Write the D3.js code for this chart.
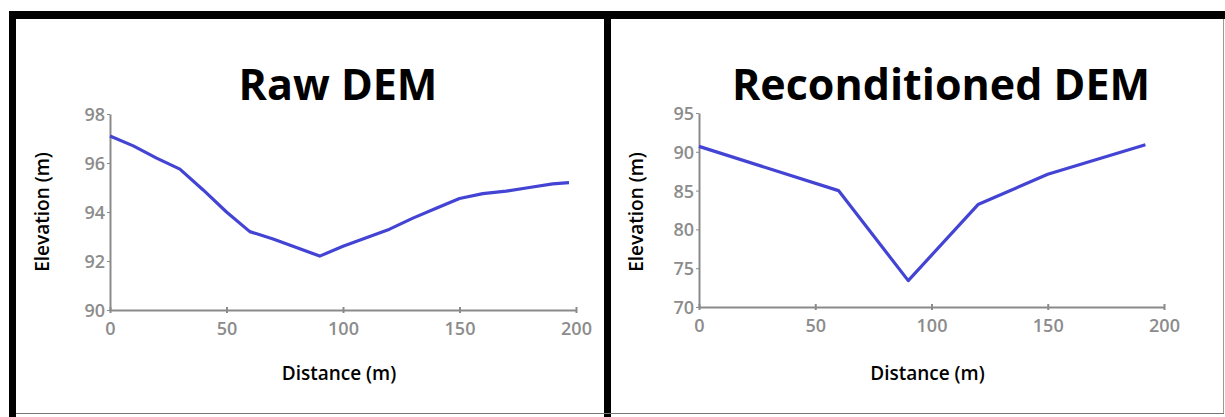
<!DOCTYPE html>
<html>
<head>
<meta charset="utf-8">
<script src="https://cdn.jsdelivr.net/npm/d3@7"></script>
<style>
  body { margin: 0; background: #fff; }
  .tick text { fill: #8c8c8c; font-family: "Open Sans", sans-serif; font-weight: 600; font-size: 18px; }
  .tick line, .domain { stroke: #8a8a8a; }
</style>
</head>
<body>
<script>
// left panel: raw DEM profile
const rawDist = [0, 10, 20, 30, 40, 50, 60, 70, 80, 90, 100, 110, 120, 130, 140, 150, 160, 170, 180, 190, 197];
const rawElev = [97.1, 96.7, 96.2, 95.75, 94.9, 94.0, 93.2, 92.9, 92.55, 92.2, 92.6, 92.95, 93.3, 93.75, 94.15, 94.55, 94.75, 94.85, 95.0, 95.15, 95.2];
const rawTicksY = [90, 92, 94, 96, 98];

// right panel: reconditioned DEM profile
const recDist = [0, 60, 90, 120, 150, 192];
const recElev = [90.7, 85.0, 73.4, 83.2, 87.1, 90.9];
const recTicksY = [70, 75, 80, 85, 90, 95];

const distTicks = [0, 50, 100, 150, 200];

const W = 1225, H = 417;
const svg = d3.select("body").append("svg")
    .attr("width", W)
    .attr("height", H);

// frame
svg.append("rect").attr("x", 9).attr("y", 11).attr("width", W - 9).attr("height", 8).attr("fill", "#000");
svg.append("rect").attr("x", 9).attr("y", 11).attr("width", 7).attr("height", H - 11).attr("fill", "#000");
svg.append("rect").attr("x", 604).attr("y", 11).attr("width", 7).attr("height", H - 11).attr("fill", "#000");
svg.append("line").attr("x1", 16).attr("x2", W - 1).attr("y1", 413.5).attr("y2", 413.5).attr("stroke", "#777");
svg.append("line").attr("x1", W - 1.5).attr("x2", W - 1.5).attr("y1", 19).attr("y2", 413).attr("stroke", "#999");

function drawPanel(opt) {
    let x = d3.scaleLinear().domain([0, 200]).range([opt.left, opt.right]);
    let y = d3.scaleLinear().domain(opt.yDomain).range([opt.bottom, opt.top]);

    svg.append("g")
        .attr("transform", `translate(0,${opt.bottom})`)
        .call(d3.axisBottom(x).tickValues(distTicks).tickSize(3).tickSizeOuter(0).tickPadding(9))
        .call(g => g.select(".domain").attr("stroke-width", 2))
        .call(g => g.selectAll(".tick line").attr("stroke-width", 2).attr("y1", -3));

    svg.append("g")
        .attr("transform", `translate(${opt.left},0)`)
        .call(d3.axisLeft(y).tickValues(opt.yTicks).tickSize(3).tickSizeOuter(0).tickPadding(2))
        .call(g => g.select(".domain").attr("stroke-width", 2))
        .call(g => g.selectAll(".tick text").attr("dy", "0.36em"));

    let line = d3.line()
        .x(function(d) { return x(d[0]); })
        .y(function(d) { return y(d[1]); });

    svg.append("path")
        .datum(d3.zip(opt.dist, opt.elev))
        .attr("fill", "none")
        .attr("stroke", "#4444d4")
        .attr("stroke-width", 3.2)
        .attr("stroke-linejoin", "round")
        .attr("d", line);

    svg.append("text")
        .attr("x", opt.titleX)
        .attr("y", 100)
        .style("text-anchor", "middle")
        .style("font-family", "'Open Sans', sans-serif")
        .style("font-weight", "bold")
        .style("font-size", "43px")
        .text(opt.title);

    svg.append("text")
        .attr("x", (opt.left + opt.right) / 2 - 4)
        .attr("y", 380)
        .style("text-anchor", "middle")
        .style("font-family", "'Open Sans', sans-serif")
        .style("font-weight", 600)
        .style("font-size", "19px")
        .text("Distance (m)");

    svg.append("text")
        .attr("transform", `translate(${opt.yLabelX},212) rotate(-90)`)
        .style("text-anchor", "middle")
        .style("font-family", "'Open Sans', sans-serif")
        .style("font-weight", 600)
        .style("font-size", "19px")
        .text("Elevation (m)");
}

drawPanel({ left: 110, right: 576, top: 114, bottom: 310, yDomain: [90, 98], yTicks: rawTicksY,
            dist: rawDist, elev: rawElev, title: "Raw DEM", titleX: 338, yLabelX: 49 });
drawPanel({ left: 699, right: 1164, top: 113, bottom: 307, yDomain: [70, 95], yTicks: recTicksY,
            dist: recDist, elev: recElev, title: "Reconditioned DEM", titleX: 941, yLabelX: 643 });
</script>
</body>
</html>
